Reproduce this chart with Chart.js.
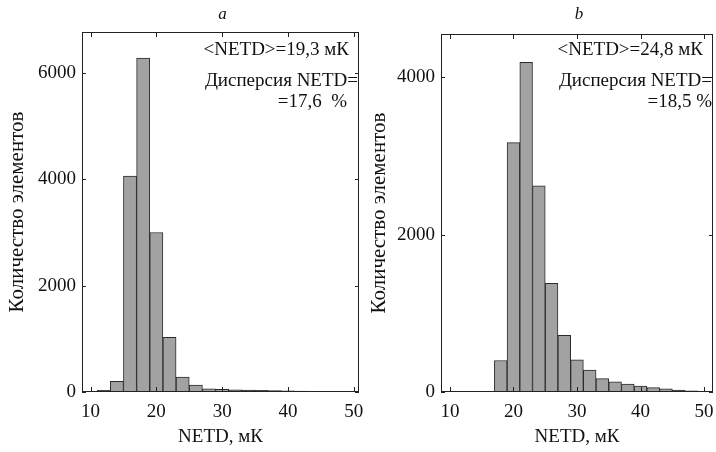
<!DOCTYPE html>
<html>
<head>
<meta charset="utf-8">
<script src="https://cdn.jsdelivr.net/npm/chart.js@4.4.1/dist/chart.umd.min.js"></script>
<style>
  html, body { margin: 0; padding: 0; background: #fff; }
  #wrap { position: relative; width: 716px; height: 452px; }
  .panel { position: absolute; top: 0; height: 452px; }
  #panelA { left: 0; width: 380px; }
  #panelB { left: 362px; width: 354px; }
</style>
</head>
<body>
<div id="wrap">
  <div class="panel" id="panelA"><canvas id="chartA"></canvas></div>
  <div class="panel" id="panelB"><canvas id="chartB"></canvas></div>
</div>
<script>
// bin centres (mK) and element counts, panel a
const binsA = [12, 14, 16, 18, 20, 22, 24, 26, 28, 30, 32, 34, 36, 38, 40, 42, 44, 46];
const countsA = [30, 200, 4060, 6280, 3000, 1030, 280, 130, 60, 50, 40, 35, 30, 25, 20, 15, 10, 5];

// panel b
const binsB = [18, 20, 22, 24, 26, 28, 30, 32, 34, 36, 38, 40, 42, 44, 46, 48, 50];
const countsB = [400, 3170, 4190, 2620, 1380, 720, 410, 280, 170, 130, 100, 75, 55, 40, 25, 15, 8];

const xTicks = [10, 20, 30, 40, 50];
const yTicksA = [0, 2000, 4000, 6000];
const yTicksB = [0, 2000, 4000];

const xTitle = "NETD, мК";
const yTitle = "Количество элементов";
const notesA = ["<NETD>=19,3 мК", "Дисперсия NETD=", "=17,6  %"];
const notesB = ["<NETD>=24,8 мК", "Дисперсия NETD=", "=18,5 %"];

const serif = "'Liberation Serif', 'DejaVu Serif', serif";

// frame, inward ticks, panel letter and the NETD notes
const decorPlugin = {
  id: 'decor',
  afterDraw(chart, args, opts) {
    const ctx = chart.ctx;
    const a = chart.chartArea;
    const xs = chart.scales.x, ys = chart.scales.y;
    ctx.save();
    ctx.strokeStyle = '#222';
    ctx.lineWidth = 1;
    ctx.strokeRect(a.left + 0.5, a.top + 0.5, a.right - a.left - 1, a.bottom - a.top - 1);
    ctx.beginPath();
    xTicks.forEach(v => {
      const px = Math.round(xs.getPixelForValue(v)) + 0.5;
      ctx.moveTo(px, a.bottom); ctx.lineTo(px, a.bottom - 5);
      ctx.moveTo(px, a.top); ctx.lineTo(px, a.top + 5);
    });
    opts.yTicks.forEach(v => {
      const py = Math.round(ys.getPixelForValue(v)) + 0.5;
      ctx.moveTo(a.left, py); ctx.lineTo(a.left + 4, py);
      ctx.moveTo(a.right, py); ctx.lineTo(a.right - 4, py);
    });
    ctx.stroke();

    ctx.fillStyle = '#111';
    ctx.font = 'italic 17px ' + serif;
    ctx.textAlign = 'center';
    ctx.textBaseline = 'alphabetic';
    ctx.fillText(opts.letter, (a.left + a.right) / 2 + 2, 19);

    ctx.font = '19px ' + serif;
    ctx.textAlign = 'right';
    opts.notes.forEach((t, i) => {
      ctx.fillText(t, a.right - opts.noteInset[i], opts.noteY[i]);
    });
    ctx.restore();
  }
};

function makeChart(id, bins, counts, yMax, yTicks, xMin, xMax, layoutPad, yWidth, decor) {
  const ctx = document.getElementById(id).getContext('2d');
  return new Chart(ctx, {
    type: 'bar',
    data: {
      datasets: [{
        data: bins.map((b, i) => ({ x: b, y: counts[i] })),
        backgroundColor: '#a2a2a2',
        borderColor: '#2b2b2b',
        borderWidth: 1,
        barPercentage: 1,
        categoryPercentage: 1
      }]
    },
    options: {
      responsive: true,
      maintainAspectRatio: false,
      animation: false,
      layout: { padding: layoutPad },
      plugins: {
        legend: { display: false },
        tooltip: { enabled: false },
        decor: decor
      },
      scales: {
        x: {
          type: 'linear',
          min: xMin,
          max: xMax,
          offset: false,
          grid: { display: false, drawTicks: false, offset: false },
          border: { display: false },
          afterBuildTicks: s => { s.ticks = xTicks.map(v => ({ value: v })); },
          afterFit: s => { s.height = 60; s.paddingLeft = 0; s.paddingRight = 0; },
          ticks: {
            padding: 9,
            maxRotation: 0,
            color: '#111',
            font: { family: serif, size: 19 },
            callback: v => String(v)
          },
          title: {
            display: true,
            text: xTitle,
            color: '#111',
            font: { family: serif, size: 19 },
            padding: { top: 0, bottom: 4 }
          }
        },
        y: {
          min: 0,
          max: yMax,
          grid: { display: false, drawTicks: false },
          border: { display: false },
          afterBuildTicks: s => { s.ticks = yTicks.map(v => ({ value: v })); },
          afterFit: s => { s.width = yWidth; s.paddingTop = 0; s.paddingBottom = 0; },
          ticks: {
            padding: 6,
            color: '#111',
            font: { family: serif, size: 19 },
            callback: v => String(v)
          },
          title: {
            display: true,
            text: yTitle,
            color: '#111',
            font: { family: serif, size: 21 },
            padding: { top: 5, bottom: 0 }
          }
        }
      }
    },
    plugins: [decorPlugin]
  });
}

makeChart('chartA', binsA, countsA, 6770, yTicksA, 8.7, 50.8,
  { top: 32, right: 21, left: 0, bottom: 0 }, 82,
  { letter: 'a', notes: notesA, yTicks: yTicksA, noteY: [55, 86, 107], noteInset: [10, 1, 12] });

makeChart('chartB', binsB, countsB, 4550, yTicksB, 8.6, 51.4,
  { top: 34, right: 3, left: 0, bottom: 0 }, 79,
  { letter: 'b', notes: notesB, yTicks: yTicksB, noteY: [55, 86, 107], noteInset: [10, 1, 1] });
</script>
</body>
</html>
